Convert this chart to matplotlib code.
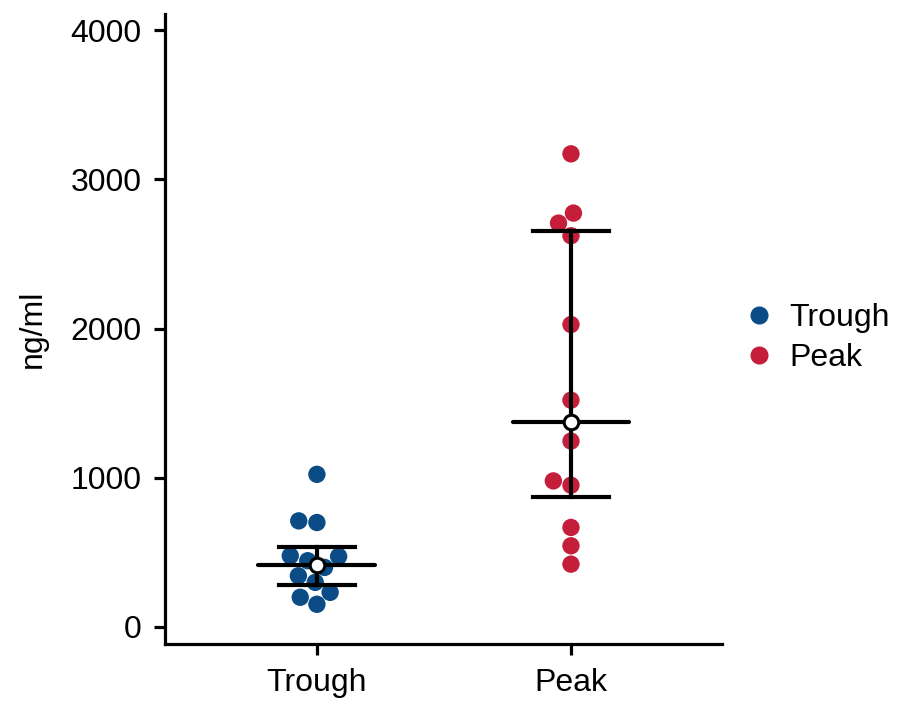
import matplotlib
matplotlib.use('Agg')
import matplotlib.pyplot as plt
import seaborn as sns
import pandas as pd
from matplotlib.lines import Line2D

plt.rcParams['font.family'] = ['Liberation Sans', 'DejaVu Sans']

# values (ng/ml)
groups = ['Trough', 'Peak']
trough = [1023, 700, 711, 444, 473, 477, 399, 343, 299, 232, 199, 152]
peak = [3171, 2774, 2707, 2622, 2027, 1520, 1246, 979, 950, 667, 544, 421]
centre = [415, 1376]
err_low = [281, 872]
err_high = [535, 2655]
colors = ['#0B4C86', '#C41E3A']

df = pd.DataFrame({
    'group': ['Trough'] * len(trough) + ['Peak'] * len(peak),
    'value': trough + peak,
})

fig = plt.figure(figsize=(8.99, 7.10), dpi=100)
ax = fig.add_axes([0.1835, 0.093, 0.6195, 0.887])

sns.swarmplot(data=df, x='group', y='value', hue='group', order=groups,
              hue_order=groups, palette=colors, size=12.5, linewidth=0,
              legend=False, ax=ax, zorder=2)

# centre line, error bar and white marker
lw = 3
for i, g in enumerate(groups):
    ax.plot([i, i], [err_low[i], err_high[i]], color='black', lw=lw, zorder=3)
    ax.plot([i - 0.23, i + 0.23], [centre[i]] * 2, color='black', lw=lw,
            solid_capstyle='round', zorder=3)
    for v in (err_low[i], err_high[i]):
        ax.plot([i - 0.15, i + 0.15], [v, v], color='black', lw=lw, zorder=3)
    ax.plot(i, centre[i], 'o', ms=10.5, mfc='white', mec='black', mew=2.2, zorder=4)

ax.set_xlim(-0.598, 1.594)
ax.set_ylim(-114, 4107)
ax.set_yticks([0, 1000, 2000, 3000, 4000])
ax.set_xticks([0, 1])
ax.set_xticklabels(groups)
ax.set_xlabel('')
ax.set_ylabel('ng/ml', fontsize=23, labelpad=16)

for s in ['top', 'right']:
    ax.spines[s].set_visible(False)
for s in ['left', 'bottom']:
    ax.spines[s].set_linewidth(2.3)
ax.tick_params(axis='both', width=2.3, length=8, labelsize=23)
ax.tick_params(axis='y', pad=9)
ax.tick_params(axis='x', pad=9)

handles = [Line2D([], [], ls='', marker='o', ms=12, color=c) for c in colors]
ax.legend(handles, groups, loc='center left', bbox_to_anchor=(0.98, 0.486),
          frameon=False, fontsize=23, handletextpad=0.35, labelspacing=0.3,
          handlelength=1.2)

fig.savefig('out.png', dpi=100)
